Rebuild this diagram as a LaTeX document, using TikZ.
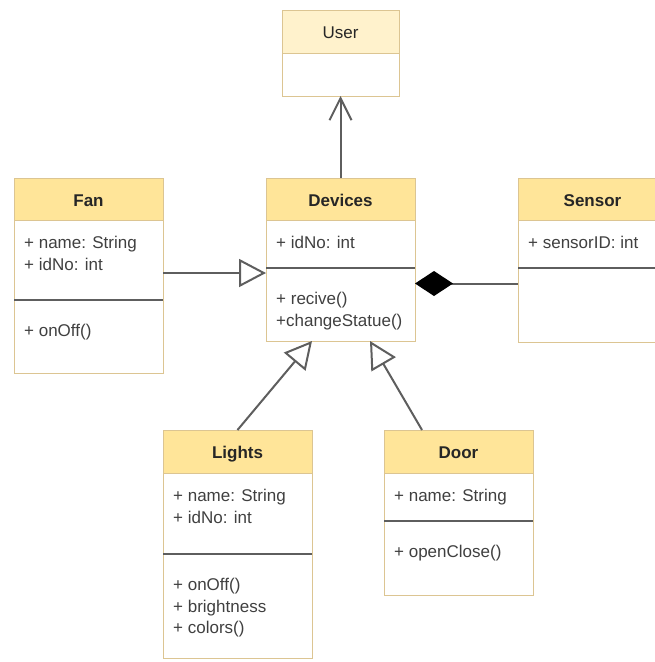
\documentclass[tikz,border=0pt]{standalone}
\usepackage{fontspec}
\setmainfont{Liberation Sans}
\usetikzlibrary{positioning,arrows.meta}
\definecolor{headfill}{HTML}{FFE599}
\definecolor{userfill}{HTML}{FFF2CC}
\definecolor{boxline}{HTML}{DCC592}
\definecolor{linkgray}{HTML}{5E5E5E}
\newcommand{\umlfont}{\fontsize{17}{21.5}\selectfont}
\tikzset{
  classhead/.style={draw=boxline,line width=1pt,fill=headfill,minimum width=149pt,minimum height=42pt,
    inner sep=0pt,outer sep=0pt,text height=14.5pt,text depth=0pt,font=\umlfont\bfseries,text=black!85},
  classpart/.style={draw=boxline,line width=1pt,fill=white,minimum width=149pt,inner sep=0pt,outer sep=0pt},
  members/.style={anchor=north west,align=left,inner sep=0pt,xshift=10pt,yshift=-16pt,font=\umlfont,text=black!75},
  methods/.style={members,yshift=-8pt},
  divider/.style={draw=linkgray,line width=2.5pt},
  link/.style={draw=linkgray,line width=2pt},
  extends/.style={link,-{Triangle[open,length=27pt,width=28pt]}},
  >=Stealth
}
\begin{document}
\begin{tikzpicture}[x=1pt,y=-1pt]
  \useasboundingbox (0,0) rectangle (655,662);
  \clip (0,0) rectangle (655,662);

  % user
  \node[classhead,fill=userfill,minimum width=117pt,minimum height=43pt,font=\umlfont,anchor=north west] (user) at (282,10) {User};
  \node[classpart,minimum width=117pt,minimum height=43pt,below=0pt of user] (userbody) {};

  % fan
  \node[classhead,anchor=north west] (fan) at (14,178) {Fan};
  \node[classpart,minimum height=80pt,below=0pt of fan,
    label={[members]north west:+ name: String\\+ idNo: int}] (fanattr) {};
  \node[classpart,minimum height=73pt,below=0pt of fanattr,
    label={[methods]north west:+ onOff()}] (fanops) {};

  % devices
  \node[classhead,anchor=north west] (dev) at (266,178) {Devices};
  \node[classpart,minimum height=48pt,below=0pt of dev,
    label={[members]north west:+ idNo: int}] (devattr) {};
  \node[classpart,minimum height=73pt,below=0pt of devattr,
    label={[methods]north west:+ recive()\\+changeStatue()}] (devops) {};

  % sensor
  \node[classhead,anchor=north west] (sensor) at (518,178) {Sensor};
  \node[classpart,minimum height=48pt,below=0pt of sensor,
    label={[members]north west:+ sensorID: int}] (sensorattr) {};
  \node[classpart,minimum height=74pt,below=0pt of sensorattr] (sensorops) {};

  % lights
  \node[classhead,minimum height=43pt,anchor=north west] (lights) at (163,430) {Lights};
  \node[classpart,minimum height=81pt,below=0pt of lights,
    label={[members]north west:+ name: String\\+ idNo: int}] (lightsattr) {};
  \node[classpart,minimum height=104pt,below=0pt of lightsattr,
    label={[methods]north west:+ onOff()\\+ brightness\\+ colors()}] (lightsops) {};

  % door
  \node[classhead,minimum height=43pt,anchor=north west] (door) at (384,430) {Door};
  \node[classpart,minimum height=48pt,below=0pt of door,
    label={[members]north west:+ name: String}] (doorattr) {};
  \node[classpart,minimum height=74pt,below=0pt of doorattr,
    label={[methods]north west:+ openClose()}] (doorops) {};

  \foreach \cls in {fan,dev,sensor,lights,door}
    \draw[divider] (\cls attr.south west) -- (\cls attr.south east);

  % links
  \draw[link,-{Straight Barb[length=22pt,width=22pt]}] (dev.north) -- (userbody.south);
  \coordinate (fanout) at ([yshift=-13pt]fanattr.east);
  \draw[extends] (fanout) -- (fanout -| devops.west);
  \coordinate (devout) at ([yshift=21pt]devops.east);
  \draw[link,{Diamond[length=38pt,width=25pt,black]}-] (devout) -- (devout -| sensorops.west);
  \draw[extends] (lights.north) -- ([xshift=46pt]devops.south west);
  \draw[extends] ([xshift=38pt]door.north west) -- ([xshift=104pt]devops.south west);
\end{tikzpicture}
\end{document}
